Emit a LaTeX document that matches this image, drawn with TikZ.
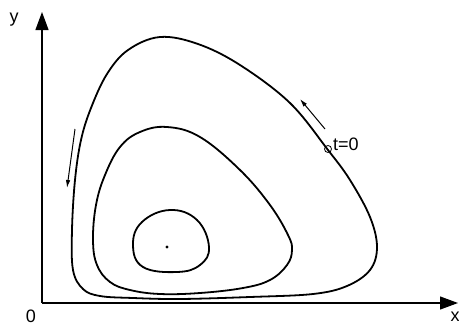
\documentclass[tikz,border=0pt]{standalone}
\usepackage{fontspec}
\setmainfont{Liberation Sans}
\usetikzlibrary{arrows.meta}
\begin{document}
\begin{tikzpicture}[x=1pt,y=-1pt,
  axis/.style={line width=1.2pt,-{Triangle[length=18pt,width=13pt]}},
  orbit/.style={line width=1.8pt},
  flow/.style={line width=1pt,-{Latex[length=8pt,width=4.5pt]}},
  lab/.style={font=\fontsize{18}{18}\selectfont,inner sep=0pt}]
\useasboundingbox (0,0) rectangle (459,327);
\coordinate (O) at (42,303);
\coordinate (ytip) at (42,12);
\coordinate (xtip) at (458,303);
\draw[axis] (O) -- (ytip);
\draw[axis] (O) -- (xtip);
\node[lab] (ylab) at (14,20) {y};
\node[lab] (xlab) at (455,317) {x};
\node[lab] (zero) at (31,316) {0};
% outer orbit
\draw[orbit] plot[smooth cycle, tension=0.6] coordinates {
 (160,37) (198,44) (240,65) (290,103) (328,150) (350,180) (370,217) (377,247)
 (370,270) (347,286) (313,294) (250,297) (180,299) (133,298) (100,296)
 (83,289) (73,270) (72,230) (75,180) (81,140) (91,108) (107,74) (128,50)};
% middle orbit
\draw[orbit] plot[smooth cycle, tension=0.65] coordinates {
 (167,127) (200,137) (240,170) (270,205) (288,235) (292,250) (287,265)
 (270,280) (243,288) (200,293) (160,294) (130,290) (110,282) (97,265)
 (93,240) (96,205) (105,175) (120,147) (140,132)};
% inner orbit
\draw[orbit] plot[smooth cycle, tension=0.7] coordinates {
 (170,210) (197,220) (209,247) (200,265) (177,272) (143,267) (133,245) (142,222)};
% equilibrium
\fill (167,247) circle (1.6);
% start point
\node[draw,circle,line width=0.8pt,minimum size=7pt,inner sep=0pt] (start) at (328,149) {};
\node[lab,anchor=west] (tlab) at (333,144) {t=0};
% flow arrows
\coordinate (a1s) at (75,129);
\coordinate (a1e) at (67,188);
\draw[flow] (a1s) -- (a1e);
\coordinate (a2s) at (325,129);
\coordinate (a2e) at (300,99);
\draw[flow] (a2s) -- (a2e);
\end{tikzpicture}
\end{document}
